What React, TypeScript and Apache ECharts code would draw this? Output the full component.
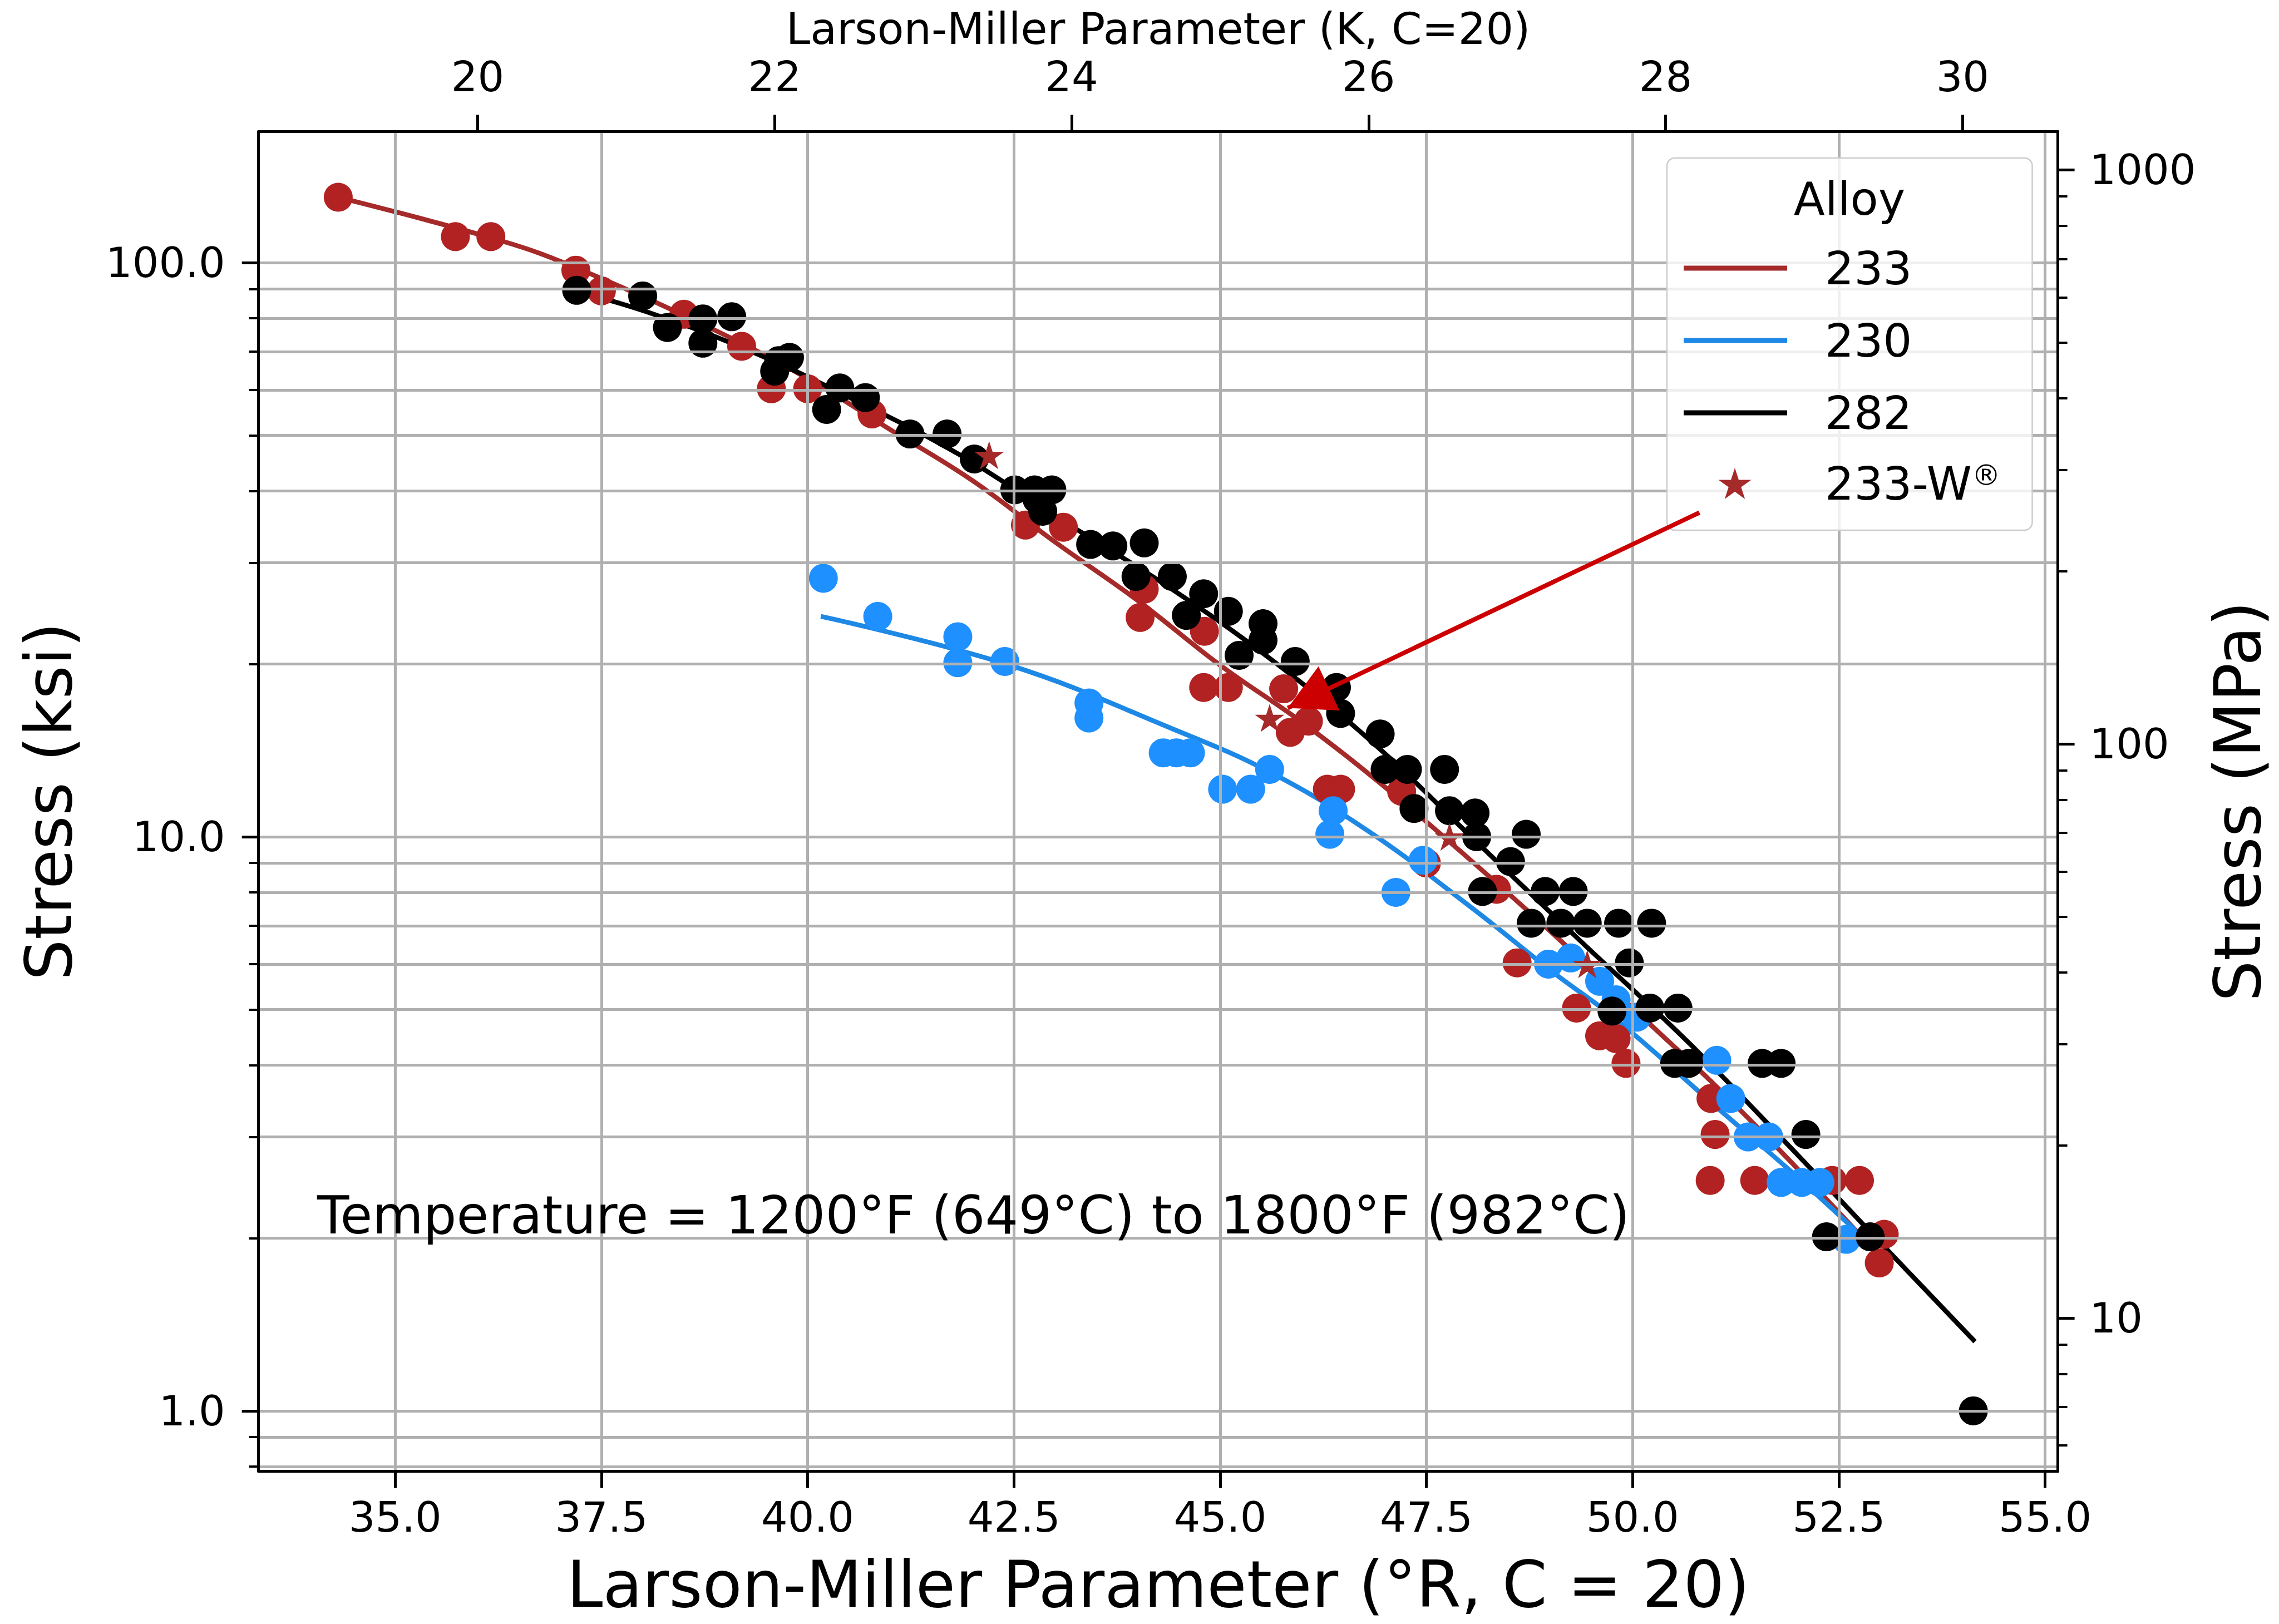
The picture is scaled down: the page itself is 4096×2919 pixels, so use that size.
import React, { useEffect, useRef } from 'react';
import * as echarts from 'echarts';

// ---------- axis ranges / ticks ----------
const X_MIN = 33.344;
const X_MAX = 55.155;
const Y_MIN = 0.785;
const Y_MAX = 169.2;
const KSI_TO_MPA = 6.895;
const R_TO_K = 1.8;

const xTicks = [35, 37.5, 40, 42.5, 45, 47.5, 50, 52.5, 55];
const topTicks = [20, 22, 24, 26, 28, 30];
const ksiMajor = [1, 10, 100];
const ksiMinor = [0.8, 0.9, 2, 3, 4, 5, 6, 7, 8, 9, 20, 30, 40, 50, 60, 70, 80, 90];
const mpaMajor = [10, 100, 1000];
const mpaMinor = [6, 7, 8, 9, 20, 30, 40, 50, 60, 70, 80, 90, 200, 300, 400, 500, 600, 700, 800, 900];
const ksiGrid = [0.8, 0.9, 1, 2, 3, 4, 5, 6, 7, 8, 9, 10, 20, 30, 40, 50, 60, 70, 80, 90, 100];

// ---------- data: [LMP (°R, C=20), stress ksi] ----------
const alloy233Points: [number, number][] = [
  [34.31, 130], [35.73, 111], [36.16, 111], [37.19, 97], [37.5, 89.3], [38.5, 81.3], [39.2, 71.5],
  [39.56, 60.3], [40.0, 60.3], [40.78, 54.5], [42.64, 34.9], [43.1, 34.6], [44.08, 27.0], [44.03, 24.1],
  [44.81, 22.8], [44.8, 18.2], [45.1, 18.2], [45.77, 18.1], [45.85, 15.2], [46.07, 15.9], [46.3, 12.1],
  [46.46, 12.1], [47.2, 12.0], [47.5, 9.0], [48.35, 8.1], [48.6, 6.03], [49.32, 5.03], [49.6, 4.5],
  [49.8, 4.45], [49.92, 4.03], [50.95, 3.5], [51.0, 3.03], [50.94, 2.52], [51.48, 2.52], [52.42, 2.52],
  [52.75, 2.52], [53.05, 2.03], [52.99, 1.81],
];

const alloy230Points: [number, number][] = [
  [40.19, 28.2], [40.85, 24.2], [41.82, 22.3], [41.82, 20.1], [42.39, 20.2], [43.41, 17.1], [43.41, 16.1],
  [44.31, 14.0], [44.47, 14.0], [44.64, 14.0], [45.03, 12.1], [45.37, 12.1], [45.6, 13.1], [46.37, 11.1],
  [46.33, 10.1], [47.46, 9.1], [47.13, 8.0], [48.98, 6.0], [49.25, 6.15], [49.6, 5.6], [49.8, 5.2],
  [50.05, 4.85], [51.02, 4.08], [51.19, 3.5], [51.4, 3.0], [51.65, 3.0], [51.8, 2.5], [52.05, 2.5],
  [52.27, 2.5], [52.59, 1.99],
];

const alloy282Points: [number, number][] = [
  [37.2, 89.5], [38.0, 87.5], [38.3, 77.1], [38.73, 79.8], [38.73, 72.4], [39.08, 80.5], [39.65, 67.5],
  [39.78, 68.4], [39.6, 64.7], [40.23, 55.5], [40.39, 60.5], [40.7, 58.2], [41.24, 50.3], [41.69, 50.3],
  [42.02, 45.5], [42.51, 40.2], [42.75, 40.2], [42.96, 40.2], [42.78, 38.7], [42.85, 36.9], [43.43, 32.3],
  [43.7, 32.1], [44.08, 32.5], [43.98, 28.4], [44.42, 28.4], [44.8, 26.5], [44.59, 24.3], [45.1, 24.7],
  [45.52, 23.5], [45.52, 22.0], [45.23, 20.7], [45.91, 20.2], [46.41, 18.2], [46.46, 16.4], [46.94, 15.1],
  [47.0, 13.1], [47.27, 13.1], [47.72, 13.1], [47.35, 11.2], [47.78, 11.1], [48.09, 11.0], [48.11, 10.0],
  [48.71, 10.1], [48.52, 9.05], [48.18, 8.03], [48.94, 8.03], [49.28, 8.03], [48.77, 7.07], [49.13, 7.07],
  [49.45, 7.07], [49.83, 7.07], [50.23, 7.07], [49.96, 6.03], [49.75, 4.97], [50.21, 5.03], [50.55, 5.03],
  [50.51, 4.03], [50.68, 4.03], [51.57, 4.03], [51.8, 4.03], [52.1, 3.03], [52.35, 2.01], [52.88, 2.01],
  [54.13, 1.0],
];

const alloy233WPoints: [number, number][] = [
  [42.2, 46.2], [45.6, 16.1], [47.78, 10.0], [49.45, 6.0],
];

const fit233: [number, number][] = [
  [34.31, 130], [36.3, 109], [37.19, 98], [38.84, 76.7], [40.0, 62.8], [41.0, 51.2], [42.0, 41.7],
  [43.0, 32.6], [44.0, 25.8], [45.0, 19.9], [46.0, 15.8], [47.0, 12.2], [48.0, 9.2], [49.0, 6.85],
  [50.0, 5.03], [51.0, 3.69], [52.0, 2.64], [53.1, 1.79],
];

const fit230: [number, number][] = [
  [40.16, 24.2], [42.45, 19.9], [44.43, 15.4], [45.63, 12.9], [46.83, 10.15], [48.06, 7.5],
  [49.04, 5.8], [49.79, 4.82], [51.06, 3.34], [51.91, 2.62], [52.69, 2.07],
];

const fit282: [number, number][] = [
  [37.18, 89.3], [38.06, 82], [39.27, 70.5], [40.5, 58.3], [41.84, 46.3], [43.11, 35.4], [44.38, 27.2],
  [45.65, 20.2], [46.87, 14.5], [48.09, 9.85], [49.36, 6.6], [50.7, 4.35], [51.92, 2.87], [52.88, 2.05],
  [54.15, 1.32],
];

const arrowTail: [number, number] = [50.81, 36.7];
const arrowTip: [number, number] = [45.82, 16.76];

const legendLineNames = ['233', '230', '282'];
const legendStarName = '233-W®';
const annotationText = 'Temperature = 1200°F (649°C) to 1800°F (982°C)';

// ---------- styles ----------
const FONT = 'DejaVu Sans';
const BLACK = '#000000';
const RED_PT = '#b22222';
const RED_LINE = '#a52a2a';
const BLUE_PT = '#1e90ff';
const BLUE_LINE = '#1e88e5';
const GRID_COLOR = '#b0b0b0';
const ARROW_COLOR = '#cc0000';

function starPath(): string {
  const pts: string[] = [];
  for (let i = 0; i < 10; i++) {
    const a = -Math.PI / 2 + (i * Math.PI) / 5;
    const r = i % 2 === 0 ? 100 : 38.2;
    pts.push(`${(r * Math.cos(a)).toFixed(2)},${(r * Math.sin(a)).toFixed(2)}`);
  }
  return 'path://M' + pts.join('L') + 'Z';
}
const STAR = starPath();

const axisLineStyle = { onZero: false, lineStyle: { color: BLACK, width: 5 } };
const majorTick = (vals: number[]) => ({
  show: true,
  customValues: vals,
  length: 30,
  lineStyle: { color: BLACK, width: 5 },
});
const minorTickAxis = (vals: number[]) => ({
  show: true,
  customValues: vals,
  length: 17,
  lineStyle: { color: BLACK, width: 4 },
});
const tickLabel = (vals: number[], fmt: (v: number) => string, margin: number) => ({
  show: true,
  customValues: vals,
  formatter: fmt,
  margin,
  fontSize: 75,
  fontFamily: FONT,
  color: BLACK,
});

function buildOption(): any {
  return {
    animation: false,
    backgroundColor: '#ffffff',
    textStyle: { fontFamily: FONT },
    grid: {
      left: 464.7,
      top: 236.4,
      right: 4096 - 3698.6,
      bottom: 2919 - 2644.4,
      containLabel: false,
      outerBoundsMode: 'none',
    },
    xAxis: [
      {
        type: 'value',
        position: 'bottom',
        min: X_MIN,
        max: X_MAX,
        z: 4,
        axisLine: axisLineStyle,
        axisTick: majorTick(xTicks),
        axisLabel: tickLabel(xTicks, (v: number) => v.toFixed(1), 45),
        splitLine: { show: false },
        name: 'Larson-Miller Parameter (°R, C = 20)',
        nameLocation: 'middle',
        nameGap: 153,
        nameTextStyle: { fontSize: 116, lineHeight: 100, fontFamily: FONT, color: BLACK },
      },
      {
        type: 'value',
        position: 'top',
        min: X_MIN / R_TO_K,
        max: X_MAX / R_TO_K,
        z: 4,
        axisLine: axisLineStyle,
        axisTick: majorTick(topTicks),
        axisLabel: tickLabel(topTicks, (v: number) => String(Math.round(v)), 61),
        splitLine: { show: false },
        name: 'Larson-Miller Parameter (K, C=20)',
        nameLocation: 'middle',
        nameGap: 145,
        nameTextStyle: { fontSize: 78, fontFamily: FONT, color: BLACK },
      },
    ],
    yAxis: [
      {
        type: 'log',
        position: 'left',
        min: Y_MIN,
        max: Y_MAX,
        z: 4,
        axisLine: axisLineStyle,
        axisTick: majorTick(ksiMajor),
        axisLabel: tickLabel(ksiMajor, (v: number) => v.toFixed(1), 60),
        splitLine: { show: false },
        name: 'Stress (ksi)',
        nameLocation: 'middle',
        nameGap: 327,
        nameTextStyle: { fontSize: 116, lineHeight: 100, fontFamily: FONT, color: BLACK },
      },
      {
        type: 'log',
        position: 'right',
        min: Y_MIN * KSI_TO_MPA,
        max: Y_MAX * KSI_TO_MPA,
        z: 4,
        axisLine: axisLineStyle,
        axisTick: majorTick(mpaMajor),
        axisLabel: tickLabel(mpaMajor, (v: number) => String(Math.round(v)), 57),
        splitLine: { show: false },
        name: 'Stress (MPa)',
        nameLocation: 'middle',
        nameGap: 273,
        nameTextStyle: { fontSize: 116, lineHeight: 100, fontFamily: FONT, color: BLACK },
      },
      {
        type: 'log',
        position: 'left',
        min: Y_MIN,
        max: Y_MAX,
        z: 4,
        axisLine: { show: false, onZero: false },
        axisTick: minorTickAxis(ksiMinor),
        axisLabel: { show: false },
        splitLine: { show: false },
      },
      {
        type: 'log',
        position: 'right',
        min: Y_MIN * KSI_TO_MPA,
        max: Y_MAX * KSI_TO_MPA,
        z: 4,
        axisLine: { show: false, onZero: false },
        axisTick: minorTickAxis(mpaMinor),
        axisLabel: { show: false },
        splitLine: { show: false },
      },
    ],
    legend: [
      {
        data: legendLineNames,
        orient: 'vertical',
        left: 2996,
        top: 284,
        padding: [157, 216, 170, 30],
        itemWidth: 186,
        itemHeight: 9,
        itemGap: 48,
        icon: 'rect',
        itemStyle: { borderWidth: 0 },
        backgroundColor: 'rgba(255,255,255,0.8)',
        borderColor: '#cccccc',
        borderWidth: 2.5,
        borderRadius: 14,
        selectedMode: false,
        z: 5,
        textStyle: { fontSize: 82, fontFamily: FONT, color: BLACK, padding: [0, 0, 0, 63] },
      },
      {
        data: [legendStarName],
        orient: 'vertical',
        left: 3088.5,
        top: 828,
        padding: 0,
        itemWidth: 59,
        itemHeight: 59,
        icon: STAR,
        itemStyle: { borderWidth: 0 },
        selectedMode: false,
        z: 6,
        formatter: () => '233-W{sup|®}',
        textStyle: {
          fontSize: 82,
          fontFamily: FONT,
          color: BLACK,
          padding: [0, 0, 0, 127.5],
          rich: { sup: { fontSize: 52, fontFamily: FONT, color: BLACK, verticalAlign: 'top' } },
        },
      },
    ],
    graphic: [
      {
        type: 'text',
        x: 3324,
        y: 357,
        z: 10,
        style: { text: 'Alloy', fontSize: 82, fontFamily: FONT, fill: BLACK, align: 'center', verticalAlign: 'middle' },
      },
      {
        type: 'text',
        x: 570,
        y: 2184,
        z: 10,
        style: { text: annotationText, fontSize: 94, fontFamily: FONT, fill: BLACK, align: 'left', verticalAlign: 'middle' },
      },
    ],
    series: [
      {
        name: '233 data',
        type: 'scatter',
        data: alloy233Points,
        symbol: 'circle',
        symbolSize: 52,
        itemStyle: { color: RED_PT, opacity: 1 },
        z: 2,
        silent: true,
      },
      {
        name: '230 data',
        type: 'scatter',
        data: alloy230Points,
        symbol: 'circle',
        symbolSize: 52,
        itemStyle: { color: BLUE_PT, opacity: 1 },
        z: 2,
        silent: true,
      },
      {
        name: '282 data',
        type: 'scatter',
        data: alloy282Points,
        symbol: 'circle',
        symbolSize: 52,
        itemStyle: { color: BLACK, opacity: 1 },
        z: 2,
        silent: true,
      },
      {
        name: legendStarName,
        type: 'scatter',
        data: alloy233WPoints,
        symbol: STAR,
        symbolSize: 53,
        symbolKeepAspect: true,
        color: RED_LINE,
        itemStyle: { color: RED_LINE, opacity: 1 },
        z: 2,
        silent: true,
        markLine: {
          silent: true,
          z: 7,
          symbol: ['none', 'triangle'],
          symbolSize: [88, 82],
          symbolOffset: [0, [0, '50%']],
          label: { show: false },
          lineStyle: { color: ARROW_COLOR, width: 8, type: 'solid' },
          itemStyle: { color: ARROW_COLOR },
          emphasis: { disabled: true },
          data: [[{ coord: arrowTail }, { coord: arrowTip }]],
        },
      },
      {
        name: '233',
        type: 'line',
        data: fit233,
        color: RED_LINE,
        symbol: 'none',
        showSymbol: false,
        smooth: 0.4,
        lineStyle: { color: RED_LINE, width: 8.5 },
        itemStyle: { color: RED_LINE },
        z: 2,
        silent: true,
      },
      {
        name: '230',
        type: 'line',
        data: fit230,
        color: BLUE_LINE,
        symbol: 'none',
        showSymbol: false,
        smooth: 0.4,
        lineStyle: { color: BLUE_LINE, width: 8.5 },
        itemStyle: { color: BLUE_LINE },
        z: 2,
        silent: true,
      },
      {
        name: '282',
        type: 'line',
        data: fit282,
        color: BLACK,
        symbol: 'none',
        showSymbol: false,
        smooth: 0.4,
        lineStyle: { color: BLACK, width: 8.5 },
        itemStyle: { color: BLACK },
        z: 2,
        silent: true,
      },
      {
        name: 'gridlines',
        type: 'line',
        data: [],
        silent: true,
        markLine: {
          silent: true,
          z: 3,
          precision: 3,
          symbol: ['none', 'none'],
          label: { show: false },
          lineStyle: { color: GRID_COLOR, width: 5, type: 'solid' },
          emphasis: { disabled: true },
          data: [
            ...ksiGrid.map((v) => ({ yAxis: v })),
            ...xTicks.map((v) => ({ xAxis: v })),
          ],
        },
      },
    ],
  };
}

export default function App() {
  const ref = useRef<HTMLDivElement>(null);
  useEffect(() => {
    if (!ref.current) return;
    const chart = echarts.init(ref.current, null, { renderer: 'svg' });
    chart.setOption(buildOption());
    return () => chart.dispose();
  }, []);
  return (
    <div
      ref={ref}
      style={{ position: 'fixed', left: 0, top: 0, width: 4096, height: 2919, background: '#ffffff' }}
    />
  );
}
